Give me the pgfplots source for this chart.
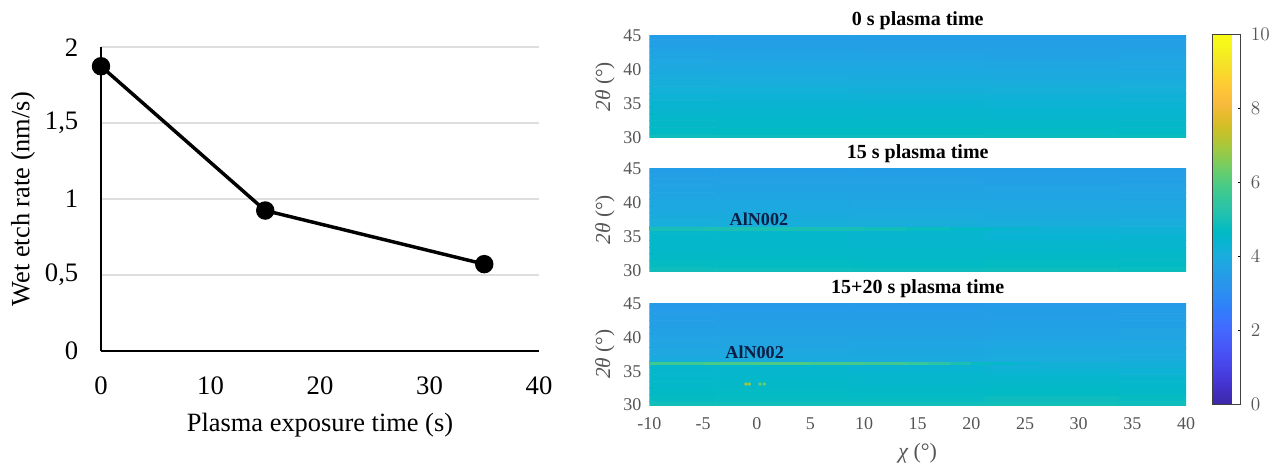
\documentclass[border=0pt]{standalone}
\usepackage{pgfplots}
\pgfplotsset{compat=1.18}
\usepackage{fontspec}
\setmainfont{Liberation Serif}
\definecolor{mgray}{RGB}{85,85,85}
\definecolor{navy}{RGB}{12,30,70}
\definecolor{gridc}{RGB}{222,222,222}
\pgfplotsset{
 colormap={parula}{rgb=(.2422,.1504,.6603) rgb=(.2578,.1818,.7511) rgb=(.2706,.2147,.8364) rgb=(.2783,.2559,.8991) rgb=(.2813,.3006,.9414) rgb=(.2795,.3447,.9717) rgb=(.2699,.3892,.9906) rgb=(.2440,.4358,.9988) rgb=(.1963,.4847,.9892) rgb=(.1786,.5289,.9682) rgb=(.1687,.5703,.9359) rgb=(.1460,.6091,.9079) rgb=(.1248,.6459,.8883) rgb=(.0952,.6798,.8598) rgb=(.0297,.7082,.8163) rgb=(.0067,.7312,.7660) rgb=(.0964,.7500,.7120) rgb=(.1717,.7670,.6554) rgb=(.2161,.7843,.5923) rgb=(.2906,.7973,.5188) rgb=(.3909,.8029,.4354) rgb=(.5044,.7993,.3480) rgb=(.6174,.7876,.2612) rgb=(.7242,.7698,.1910) rgb=(.8203,.7498,.1535) rgb=(.9035,.7330,.1774) rgb=(.9728,.7298,.2394) rgb=(.9970,.7659,.2199) rgb=(.9892,.8136,.1885) rgb=(.9676,.8639,.1643) rgb=(.9597,.9135,.1423) rgb=(.9691,.9606,.1064) rgb=(.9769,.9839,.0805)},
 heat/.style={
  scale only axis, width=402.4pt,
  xmin=-10, xmax=40, ymin=30, ymax=45,
  point meta min=0, point meta max=10,
  axis line style={draw=none}, tick style={draw=none},
  ytick={30,35,40,45}, 
  xtick={-10,-5,...,40},
  tick label style={font=\fontsize{13.5}{13.5}\selectfont, text=mgray},
  /pgf/number format/assume math mode=true,
  ylabel={\itshape 2θ\upshape\ (°)},
  ylabel style={font=\fontsize{16}{16}\selectfont, text=mgray, at={(axis description cs:-0.056,0.5)}},
  title style={font=\bfseries\fontsize{15}{15}\selectfont, yshift=-5pt},
  yticklabel style={xshift=-2.5pt},
  clip=true,
 },
 bg/.style={matrix plot*, point meta=explicit, mesh/cols=5, forget plot},
 peak/.style={surf, shader=flat mean, point meta=explicit, forget plot},
}
\begin{document}
\begin{tikzpicture}[x=1pt,y=1pt]
\path[use as bounding box] (0,0) rectangle (960,351);

% left chart
\begin{axis}[
 at={(75.75pt,87.75pt)}, anchor=south west, scale only axis,
 width=328.5pt, height=227.8pt,
 xmin=0, xmax=40, ymin=0, ymax=2,
 xtick={0,10,20,30,40}, ytick={0,0.5,1,1.5,2},
 yticklabels={0,{0,5},1,{1,5},2},
 ymajorgrids, grid style={gridc, line width=1.4pt},
 axis x line*=bottom, axis y line*=left,
 axis line style={black, line width=1.3pt, -},
 tick style={draw=none},
 tick label style={font=\fontsize{20}{20}\selectfont},
 /pgf/number format/assume math mode=true,
 xticklabel style={yshift=-15.5pt},
 yticklabel style={xshift=-13.5pt},
 xlabel={Plasma exposure time (s)}, ylabel={Wet etch rate (nm/s)},
 label style={font=\fontsize{19.8}{20}\selectfont},
 xlabel style={at={(axis description cs:0.5,-0.188)}, anchor=north},
 ylabel style={at={(axis description cs:-0.140,0.5)}, anchor=south},
 clip=false,
]
\addplot[black, line width=2.6pt, mark=*, mark size=5.6pt] coordinates {(0,1.875) (15,0.925) (35,0.572)};
\end{axis}

% panel 1
\begin{axis}[heat, at={(487.1pt,247.9pt)}, anchor=south west, height=76.1pt, xticklabels={}, title={0 s plasma time}]
\addplot[bg] coordinates {
(-10,30)[4.85] (2.5,30)[4.84] (15,30)[4.84] (27.5,30)[4.82] (40,30)[4.80]
(-10,31)[4.68] (2.5,31)[4.68] (15,31)[4.66] (27.5,31)[4.64] (40,31)[4.62]
(-10,32)[4.58] (2.5,32)[4.57] (15,32)[4.56] (27.5,32)[4.54] (40,32)[4.54]
(-10,33)[4.52] (2.5,33)[4.53] (15,33)[4.48] (27.5,33)[4.46] (40,33)[4.46]
(-10,34)[4.43] (2.5,34)[4.42] (15,34)[4.40] (27.5,34)[4.38] (40,34)[4.38]
(-10,35)[4.34] (2.5,35)[4.34] (15,35)[4.32] (27.5,35)[4.30] (40,35)[4.30]
(-10,36)[4.26] (2.5,36)[4.26] (15,36)[4.24] (27.5,36)[4.22] (40,36)[4.22]
(-10,37)[4.17] (2.5,37)[4.16] (15,37)[4.15] (27.5,37)[4.13] (40,37)[4.13]
(-10,38)[4.09] (2.5,38)[4.08] (15,38)[4.07] (27.5,38)[4.05] (40,38)[4.05]
(-10,39)[4.00] (2.5,39)[4.00] (15,39)[3.98] (27.5,39)[3.96] (40,39)[3.96]
(-10,40)[3.92] (2.5,40)[3.92] (15,40)[3.90] (27.5,40)[3.88] (40,40)[3.88]
(-10,41)[3.84] (2.5,41)[3.83] (15,41)[3.82] (27.5,41)[3.80] (40,41)[3.81]
(-10,42)[3.75] (2.5,42)[3.74] (15,42)[3.73] (27.5,42)[3.71] (40,42)[3.73]
(-10,43)[3.67] (2.5,43)[3.66] (15,43)[3.65] (27.5,43)[3.65] (40,43)[3.65]
(-10,44)[3.58] (2.5,44)[3.57] (15,44)[3.56] (27.5,44)[3.56] (40,44)[3.56]
(-10,45)[3.50] (2.5,45)[3.50] (15,45)[3.48] (27.5,45)[3.48] (40,45)[3.48]
};
\end{axis}

% panel 2
\begin{axis}[heat, at={(487.1pt,147.75pt)}, anchor=south west, height=76.9pt, xticklabels={}, title={15 s plasma time}]
\addplot[bg] coordinates {
(-10,30)[4.88] (2.5,30)[4.86] (15,30)[4.84] (27.5,30)[4.85] (40,30)[4.82]
(-10,31)[4.72] (2.5,31)[4.70] (15,31)[4.68] (27.5,31)[4.72] (40,31)[4.68]
(-10,32)[4.62] (2.5,32)[4.62] (15,32)[4.58] (27.5,32)[4.62] (40,32)[4.58]
(-10,33)[4.56] (2.5,33)[4.56] (15,33)[4.50] (27.5,33)[4.52] (40,33)[4.50]
(-10,34)[4.52] (2.5,34)[4.52] (15,34)[4.46] (27.5,34)[4.44] (40,34)[4.42]
(-10,35)[4.50] (2.5,35)[4.50] (15,35)[4.42] (27.5,35)[4.36] (40,35)[4.34]
(-10,36)[4.50] (2.5,36)[4.48] (15,36)[4.38] (27.5,36)[4.26] (40,36)[4.24]
(-10,37)[4.08] (2.5,37)[4.08] (15,37)[4.06] (27.5,37)[4.05] (40,37)[4.05]
(-10,38)[3.99] (2.5,38)[3.99] (15,38)[3.97] (27.5,38)[3.96] (40,38)[3.96]
(-10,39)[3.92] (2.5,39)[3.92] (15,39)[3.90] (27.5,39)[3.88] (40,39)[3.88]
(-10,40)[3.85] (2.5,40)[3.85] (15,40)[3.82] (27.5,40)[3.80] (40,40)[3.80]
(-10,41)[3.78] (2.5,41)[3.78] (15,41)[3.76] (27.5,41)[3.74] (40,41)[3.74]
(-10,42)[3.71] (2.5,42)[3.71] (15,42)[3.69] (27.5,42)[3.68] (40,42)[3.68]
(-10,43)[3.64] (2.5,43)[3.64] (15,43)[3.62] (27.5,43)[3.61] (40,43)[3.61]
(-10,44)[3.57] (2.5,44)[3.57] (15,44)[3.55] (27.5,44)[3.55] (40,44)[3.55]
(-10,45)[3.50] (2.5,45)[3.50] (15,45)[3.48] (27.5,45)[3.48] (40,45)[3.48]
};
\addplot[peak, mesh/cols=9] coordinates {
(-10,36)[4.95] (-5,36)[5.05] (0,36)[5.05] (5,36)[5.0] (10,36)[4.95] (14,36)[4.85] (18,36)[4.7] (22,36)[4.5] (26,36)[4.35]
(-10,36.4)[4.95] (-5,36.4)[5.05] (0,36.4)[5.05] (5,36.4)[5.0] (10,36.4)[4.95] (14,36.4)[4.85] (18,36.4)[4.7] (22,36.4)[4.5] (26,36.4)[4.35]
};
\node[font=\bfseries\fontsize{13.6}{13.6}\selectfont, text=navy] at (axis cs:0.2,37.6) {AlN002};
\end{axis}

% panel 3
\begin{axis}[heat, at={(487.1pt,47.25pt)}, anchor=south west, height=76.1pt,
 title={15+20 s plasma time},
 xticklabel style={yshift=-6pt},
 xlabel={\itshape χ\upshape\ (°)},
 xlabel style={font=\fontsize{16.5}{16.5}\selectfont, text=mgray, at={(axis description cs:0.5,-0.33)}, anchor=north},
 colorbar,
 colorbar style={
  at={(parent axis.south east)}, anchor=south west, xshift=11.3pt, yshift=0.75pt,
  scale only axis, width=21.3pt, height=277.3pt,
  ytick={0,2,4,6,8,10},
  yticklabel pos=right,
  axis line style={draw=black!75, line width=0.6pt},
  tick style={draw=black, line width=0.5pt},
  major tick length=2.5pt,
  ytick pos=right,
  tick align=inside,
  xtick=\empty,
  ylabel={}, xlabel={},
  yticklabel style={font=\fontsize{13.5}{13.5}\selectfont, text=mgray, xshift=4pt},
 },
]
\addplot[bg] coordinates {
(-10,30)[4.90] (2.5,30)[4.90] (15,30)[4.90] (27.5,30)[4.90] (40,30)[4.85]
(-10,31)[4.72] (2.5,31)[4.74] (15,31)[4.74] (27.5,31)[4.84] (40,31)[4.76]
(-10,32)[4.62] (2.5,32)[4.64] (15,32)[4.62] (27.5,32)[4.68] (40,32)[4.60]
(-10,33)[4.56] (2.5,33)[4.58] (15,33)[4.52] (27.5,33)[4.56] (40,33)[4.50]
(-10,34)[4.50] (2.5,34)[4.50] (15,34)[4.44] (27.5,34)[4.44] (40,34)[4.42]
(-10,35)[4.46] (2.5,35)[4.46] (15,35)[4.38] (27.5,35)[4.32] (40,35)[4.28]
(-10,36)[4.46] (2.5,36)[4.44] (15,36)[4.32] (27.5,36)[4.18] (40,36)[4.14]
(-10,37)[3.94] (2.5,37)[3.94] (15,37)[3.95] (27.5,37)[4.00] (40,37)[4.02]
(-10,38)[3.84] (2.5,38)[3.84] (15,38)[3.85] (27.5,38)[3.90] (40,38)[3.92]
(-10,39)[3.76] (2.5,39)[3.76] (15,39)[3.77] (27.5,39)[3.82] (40,39)[3.83]
(-10,40)[3.68] (2.5,40)[3.68] (15,40)[3.70] (27.5,40)[3.74] (40,40)[3.76]
(-10,41)[3.62] (2.5,41)[3.62] (15,41)[3.64] (27.5,41)[3.67] (40,41)[3.68]
(-10,42)[3.56] (2.5,42)[3.56] (15,42)[3.56] (27.5,42)[3.60] (40,42)[3.61]
(-10,43)[3.50] (2.5,43)[3.50] (15,43)[3.50] (27.5,43)[3.53] (40,43)[3.55]
(-10,44)[3.45] (2.5,44)[3.45] (15,44)[3.45] (27.5,44)[3.48] (40,44)[3.50]
(-10,45)[3.40] (2.5,45)[3.40] (15,45)[3.40] (27.5,45)[3.42] (40,45)[3.44]
};
\addplot[peak, mesh/cols=12] coordinates {
(-10,35.95)[5.7] (-5,35.95)[5.8] (0,35.95)[6.0] (5,35.95)[5.9] (10,35.95)[5.8] (14,35.95)[5.7] (16,35.95)[5.5] (18,35.95)[5.2] (20,35.95)[4.9] (22,35.95)[4.6] (24,35.95)[4.4] (26,35.95)[4.25]
(-10,36.35)[5.7] (-5,36.35)[5.8] (0,36.35)[6.0] (5,36.35)[5.9] (10,36.35)[5.8] (14,36.35)[5.7] (16,36.35)[5.5] (18,36.35)[5.2] (20,36.35)[4.9] (22,36.35)[4.6] (24,36.35)[4.4] (26,36.35)[4.25]
};
\addplot[scatter, only marks, mark=*, mark size=1.1pt, point meta=explicit, scatter/use mapped color={draw=mapped color, fill=mapped color}, forget plot] coordinates {(-1,33.1)[7.0] (-0.7,33.1)[6.8] (0.3,33.1)[6.3] (0.7,33.1)[6.3]};
\node[font=\bfseries\fontsize{13.6}{13.6}\selectfont, text=navy] at (axis cs:-0.2,37.8) {AlN002};
\end{axis}
\end{tikzpicture}
\end{document}
